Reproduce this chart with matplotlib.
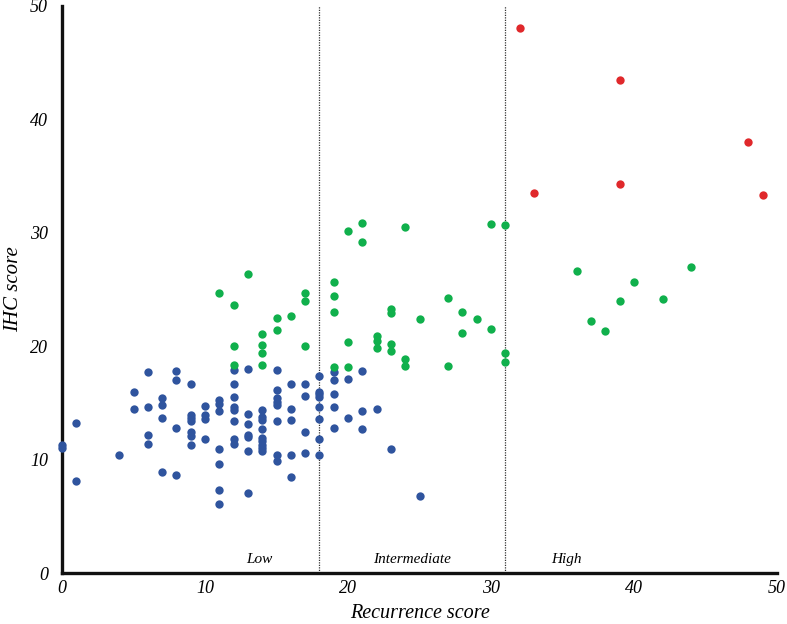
import matplotlib
matplotlib.use("Agg")
import matplotlib.pyplot as plt

# ---- data ----
low_x = [0, 0, 1, 1, 4,
         5, 5,
         6, 6, 6, 6,
         7, 7, 7, 7,
         8, 8, 8, 8,
         9, 9, 9, 9, 9, 9, 9,
         10, 10, 10, 10,
         11, 11, 11, 11, 11, 11, 11,
         12, 12, 12, 12, 12, 12, 12, 12,
         13, 13, 13, 13, 13, 13, 13,
         14, 14, 14, 14, 14, 14, 14, 14, 14,
         15, 15, 15, 15, 15, 15, 15, 15,
         16, 16, 16, 16, 16,
         17, 17, 17, 17,
         18, 18, 18, 18, 18, 18, 18, 18,
         19, 19, 19, 19, 19,
         20, 20,
         21, 21, 21,
         22, 23, 25]
low_y = [11.3, 11.0, 13.2, 8.1, 10.4,
         16.0, 14.5,
         17.7, 14.6, 12.2, 11.4,
         15.4, 14.8, 13.7, 8.9,
         17.8, 17.0, 12.8, 8.6,
         16.7, 13.9, 13.7, 13.4, 12.4, 12.1, 11.3,
         14.7, 13.9, 13.55, 11.8,
         15.3, 14.9, 14.3, 10.9, 9.6, 7.35, 6.1,
         17.9, 16.7, 15.5, 14.6, 14.4, 13.4, 11.8, 11.4,
         18.0, 14.05, 13.1, 12.2, 12.0, 10.8, 7.1,
         14.4, 13.75, 13.5, 12.7, 11.9, 11.6, 11.3, 11.0, 10.8,
         17.9, 16.1, 15.4, 15.1, 14.8, 13.4, 10.4, 9.9,
         16.7, 14.5, 13.5, 10.4, 8.5,
         16.7, 15.6, 12.4, 10.6,
         17.35, 16.0, 15.75, 15.55, 14.6, 13.6, 11.8, 10.4,
         17.7, 17.0, 15.75, 14.6, 12.8,
         17.1, 13.7,
         17.8, 14.3, 12.7,
         14.5, 10.9, 6.8]

mid_x = [11, 12, 12, 12, 13,
         14, 14, 14, 14,
         15, 15, 16,
         17, 17, 17,
         19, 19, 19, 19,
         20, 20, 20,
         21, 21,
         22, 22, 22,
         23, 23, 23, 23,
         24, 24, 24,
         25,
         27, 27,
         28, 28,
         29,
         30, 30,
         31, 31, 31,
         36, 37, 38, 39, 40, 42, 44]
mid_y = [24.7, 23.6, 20.0, 18.3, 26.4,
         21.1, 20.1, 19.4, 18.3,
         22.45, 21.4, 22.7,
         24.7, 24.0, 20.0,
         25.7, 24.45, 23.0, 18.2,
         30.2, 20.4, 18.2,
         30.9, 29.2,
         20.9, 20.5, 19.8,
         23.3, 22.9, 20.2, 19.6,
         30.5, 18.9, 18.25,
         22.4,
         24.25, 18.25,
         23.0, 21.2,
         22.4,
         30.8, 21.5,
         30.7, 19.4, 18.6,
         26.6, 22.2, 21.3, 24.0, 25.7, 24.2, 26.96]

high_x = [32, 33, 39, 39, 48, 49]
high_y = [48.1, 33.5, 43.5, 34.3, 38.0, 33.3]

cutoffs = [18, 31]
group_names = ["Low", "Intermediate", "High"]
x_ticks = [0, 10, 20, 30, 40, 50]
y_ticks = [0, 10, 20, 30, 40, 50]

# ---- plot ----
plt.rcParams['font.family'] = ['Liberation Serif', 'DejaVu Serif']
fig = plt.figure(figsize=(7.87, 6.24), dpi=100)
ax = fig.add_axes([0.0788, 0.0817, 0.9085, 0.9087])

ms = 36
ax.scatter(low_x, low_y, s=ms, color='#2F549E', linewidths=0, zorder=3, clip_on=False)
ax.scatter(mid_x, mid_y, s=ms, color='#10B04C', linewidths=0, zorder=3, clip_on=False)
ax.scatter(high_x, high_y, s=ms, color='#E0282B', linewidths=0, zorder=3, clip_on=False)

for c in cutoffs:
    ax.axvline(c, color='#333333', linestyle=(0, (1, 1)), linewidth=0.9, zorder=2)

label_x = [13.8, 24.5, 35.3]
for lx, name in zip(label_x, group_names):
    ax.text(lx, 1.15, name, ha='center', va='center', fontsize=11, style='italic')

ax.set_xlim(0, 50)
ax.set_ylim(0, 50)
ax.set_xticks(x_ticks)
ax.set_yticks(y_ticks)
ax.set_xticklabels([str(t) for t in x_ticks], fontsize=13, style='italic')
ax.set_yticklabels([str(t) for t in y_ticks], fontsize=13, style='italic')
ax.tick_params(axis='x', length=0, pad=5)
ax.tick_params(axis='y', length=0, pad=10)

for s in ['top', 'right']:
    ax.spines[s].set_visible(False)
for s in ['left', 'bottom']:
    ax.spines[s].set_linewidth(2.4)
    ax.spines[s].set_color('#111111')

ax.set_xlabel('Recurrence score', fontsize=14.5, style='italic', labelpad=5)
ax.set_ylabel('IHC score', fontsize=15, style='italic', labelpad=5)

fig.savefig('out.png', dpi=100)
